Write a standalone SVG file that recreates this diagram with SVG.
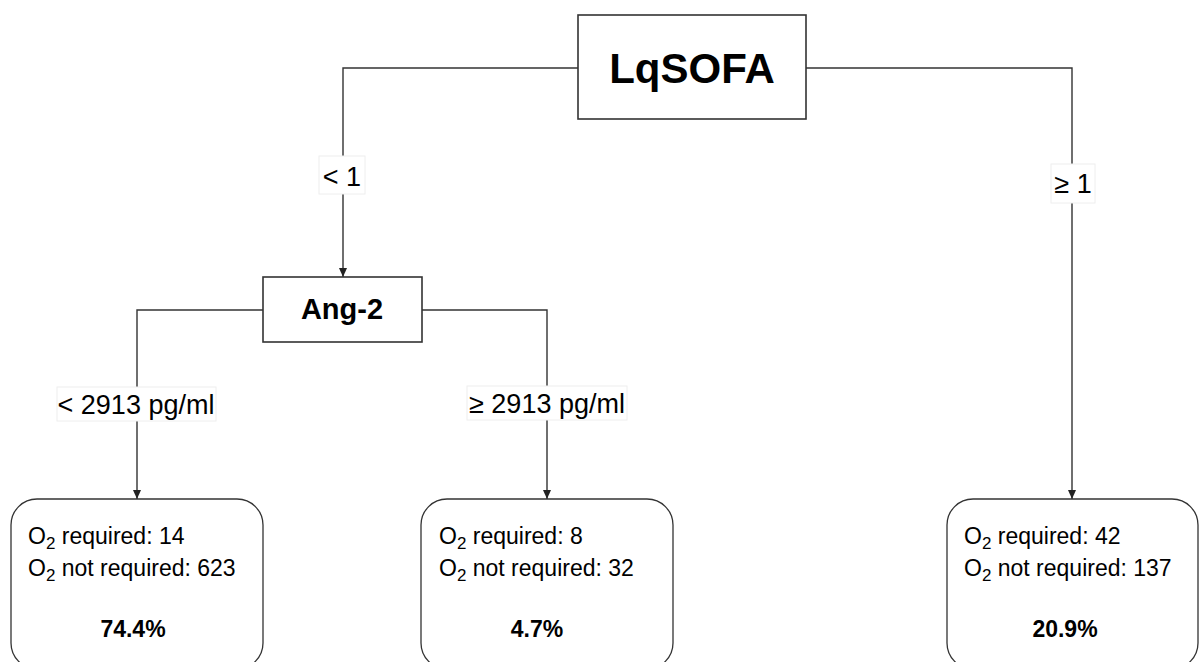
<svg xmlns="http://www.w3.org/2000/svg" width="1199" height="662" viewBox="0 0 1199 662">
<style>
text{font-family:"Liberation Sans",Arial,sans-serif;fill:#000}
.box{fill:#fff;stroke:#333;stroke-width:1.6}
.leaf{fill:#fff;stroke:#333;stroke-width:1.3}
.edge{fill:none;stroke:#333;stroke-width:1.4}
.lblbg{fill:#fff;stroke:#eeeeee;stroke-width:1}
.lbl{font-size:27px;text-anchor:middle}
.ln{font-size:23px}
.sub{font-size:17px}
.pct{font-size:23px;font-weight:bold;text-anchor:middle}
</style>
<defs>
<marker id="arr" markerWidth="10" markerHeight="10" refX="9" refY="5" orient="auto" markerUnits="userSpaceOnUse">
<path d="M0,1 L9,5 L0,9 z" fill="#222"/>
</marker>
</defs>
<rect width="1199" height="662" fill="#fff"/>
<g id="connectors">
<path class="edge" d="M578,68 H343 V277" marker-end="url(#arr)"/>
<path class="edge" d="M806,68 H1072 V499" marker-end="url(#arr)"/>
<path class="edge" d="M263,310 H137 V499" marker-end="url(#arr)"/>
<path class="edge" d="M422,310 H547 V499" marker-end="url(#arr)"/>
<g id="label-lt1">
<rect class="lblbg" x="319" y="156" width="46" height="38"/>
<text class="lbl" x="342" y="186">&lt; 1</text>
</g>
<g id="label-ge1">
<rect class="lblbg" x="1051" y="164" width="44" height="39"/>
<text class="lbl" x="1073" y="193">≥ 1</text>
</g>
<g id="label-lt2913">
<rect class="lblbg" x="57" y="387" width="159" height="34"/>
<text class="lbl" x="136" y="414">&lt; 2913 pg/ml</text>
</g>
<g id="label-ge2913">
<rect class="lblbg" x="467" y="386" width="160" height="34"/>
<text class="lbl" x="547" y="413">≥ 2913 pg/ml</text>
</g>
</g>
<g id="node-lqsofa">
<rect class="box" x="578" y="15" width="228" height="104"/>
<text x="692" y="83" font-size="42" font-weight="bold" text-anchor="middle">LqSOFA</text>
</g>
<g id="node-ang2">
<rect class="box" x="263" y="277" width="159" height="65"/>
<text x="342" y="319" font-size="29" font-weight="bold" text-anchor="middle">Ang-2</text>
</g>
<g id="leaf-left">
<rect class="leaf" x="11" y="499" width="252" height="170" rx="26"/>
<text class="ln" x="28" y="544">O<tspan class="sub" dy="5">2</tspan><tspan dy="-5"> required: 14</tspan></text>
<text class="ln" x="28" y="576">O<tspan class="sub" dy="5">2</tspan><tspan dy="-5"> not required: 623</tspan></text>
<text class="pct" x="133" y="637">74.4%</text>
</g>
<g id="leaf-middle">
<rect class="leaf" x="421" y="499" width="252" height="170" rx="26"/>
<text class="ln" x="439" y="544">O<tspan class="sub" dy="5">2</tspan><tspan dy="-5"> required: 8</tspan></text>
<text class="ln" x="439" y="576">O<tspan class="sub" dy="5">2</tspan><tspan dy="-5"> not required: 32</tspan></text>
<text class="pct" x="537" y="637">4.7%</text>
</g>
<g id="leaf-right">
<rect class="leaf" x="947" y="499" width="251" height="170" rx="26"/>
<text class="ln" x="964" y="544">O<tspan class="sub" dy="5">2</tspan><tspan dy="-5"> required: 42</tspan></text>
<text class="ln" x="964" y="576">O<tspan class="sub" dy="5">2</tspan><tspan dy="-5"> not required: 137</tspan></text>
<text class="pct" x="1065" y="637">20.9%</text>
</g>
</svg>
